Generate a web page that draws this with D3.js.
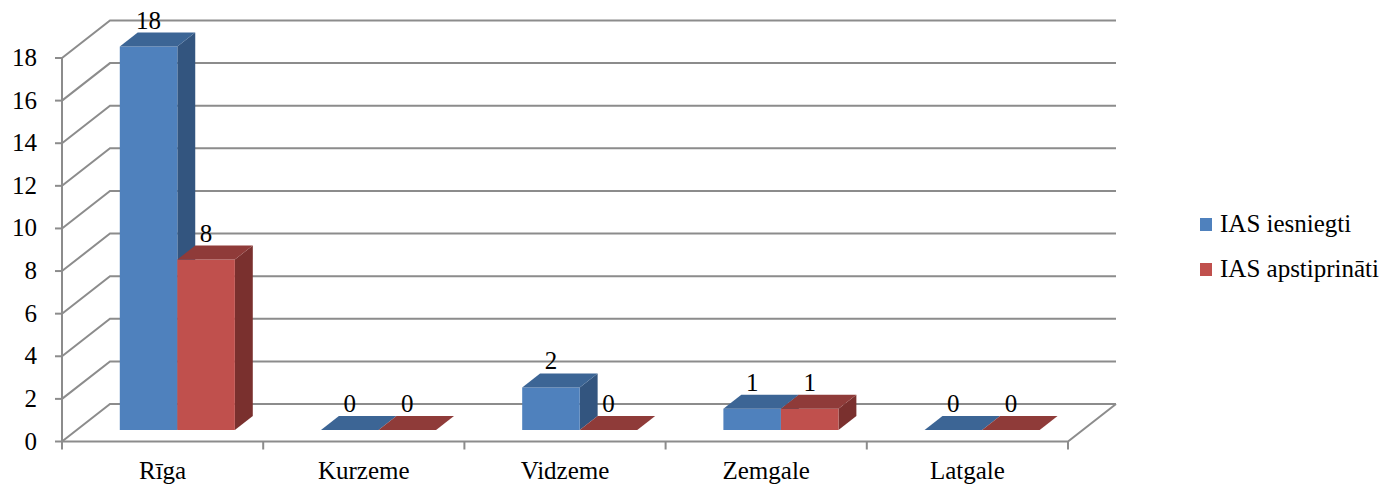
<!DOCTYPE html>
<html>
<head>
<meta charset="utf-8">
<script src="https://cdnjs.cloudflare.com/ajax/libs/d3/7.8.5/d3.min.js"></script>
<style>
  body { margin: 0; background: #fff; }
</style>
</head>
<body>
<div id="chart"></div>
<script>
// data
var categories = ["Rīga", "Kurzeme", "Vidzeme", "Zemgale", "Latgale"];
var iesniegti = [18, 0, 2, 1, 0];
var apstiprinati = [8, 0, 0, 1, 0];
var seriesNames = ["IAS iesniegti", "IAS apstiprināti"];
var yTicks = [0, 2, 4, 6, 8, 10, 12, 14, 16, 18];

var W = 1393, H = 487;
var FONT = "Liberation Serif";
var svg = d3.select("#chart").append("svg").attr("width", W).attr("height", H);

// 3d look: front plane + depth offset
var DX = 48, DY = -37.5;
var x = d3.scaleBand().domain(categories).range([62, 1068]);
var y = d3.scaleLinear().domain([0, 18]).range([441.5, 58]);
var grid = "#8c8c8c";

function P(px, v, d) { return [px + d * DX, y(v) + d * DY]; }
function txt(g, px, py, s, anchor, size) {
  return g.append("text")
    .attr("x", px).attr("y", py)
    .attr("text-anchor", anchor || "middle")
    .attr("font-family", FONT)
    .attr("font-size", (size || 25) + "px")
    .attr("fill", "#000")
    .text(s);
}

// side wall + back wall gridlines
var gl = svg.append("g").attr("stroke", grid).attr("stroke-width", 2).attr("fill", "none");
yTicks.forEach(function(t) {
  var a = P(62, t, 0), b = P(62, t, 1), c = P(1068, t, 1);
  gl.append("polyline").attr("points", [a, b, c].join(" "));
});
// floor
var f0 = P(62, 0, 0), f1 = P(1068, 0, 0), f2 = P(1068, 0, 1);
gl.append("polyline").attr("points", [f0, f1, f2].join(" "));
// left axis
gl.append("line").attr("x1", 62).attr("x2", 62).attr("y1", y(18)).attr("y2", y(0) + 1);
yTicks.forEach(function(t) {
  gl.append("line").attr("x1", 55).attr("x2", 62).attr("y1", y(t)).attr("y2", y(t));
});
// category ticks
var bounds = categories.map(function(c) { return x(c); }).concat([1068]);
bounds.forEach(function(b) {
  gl.append("line").attr("x1", b).attr("x2", b).attr("y1", y(0)).attr("y2", y(0) + 8);
});

// tick labels
var ax = svg.append("g");
yTicks.forEach(function(t) {
  txt(ax, 37, y(t) + 8, t, "end");
});
categories.forEach(function(c) {
  txt(ax, x(c) + x.bandwidth() / 2, 479, c);
});

// bars
var colors = [
  { front: "#4f81bd", top: "#3c6595", side: "#33557f" },
  { front: "#c0504d", top: "#8f3b39", side: "#7a302e" }
];
var d1 = 0.307, d2 = 0.68;
var barW = x.bandwidth() * 0.286;
var series = [iesniegti, apstiprinati];
var bars = svg.append("g");
categories.forEach(function(c, i) {
  var cx = x(c) + x.bandwidth() / 2;
  series.forEach(function(vals, s) {
    var v = vals[i];
    var xl = cx - barW + s * barW, xr = xl + barW;
    var col = colors[s];
    // side face
    bars.append("polygon").attr("fill", col.side)
      .attr("points", [P(xr, 0, d1), P(xr, 0, d2), P(xr, v, d2), P(xr, v, d1)].join(" "));
    // front face
    bars.append("polygon").attr("fill", col.front)
      .attr("points", [P(xl, 0, d1), P(xr, 0, d1), P(xr, v, d1), P(xl, v, d1)].join(" "));
    // top face
    bars.append("polygon").attr("fill", col.top)
      .attr("points", [P(xl, v, d1), P(xr, v, d1), P(xr, v, d2), P(xl, v, d2)].join(" "));
    // value label: over the front centre, just above the back edge of the top
    var lx = P(xl + barW / 2, v, d1)[0];
    var ly = P(xl + barW / 2, v, d2)[1];
    txt(bars, lx, ly - 4, v);
  });
});

// legend
var lg = svg.append("g");
seriesNames.forEach(function(n, i) {
  var ly = 218 + i * 45;
  lg.append("rect").attr("x", 1200).attr("y", ly).attr("width", 12).attr("height", 13)
    .attr("fill", colors[i].front);
  txt(lg, 1220, ly + 14, n, "start", 25);
});
</script>
</body>
</html>
